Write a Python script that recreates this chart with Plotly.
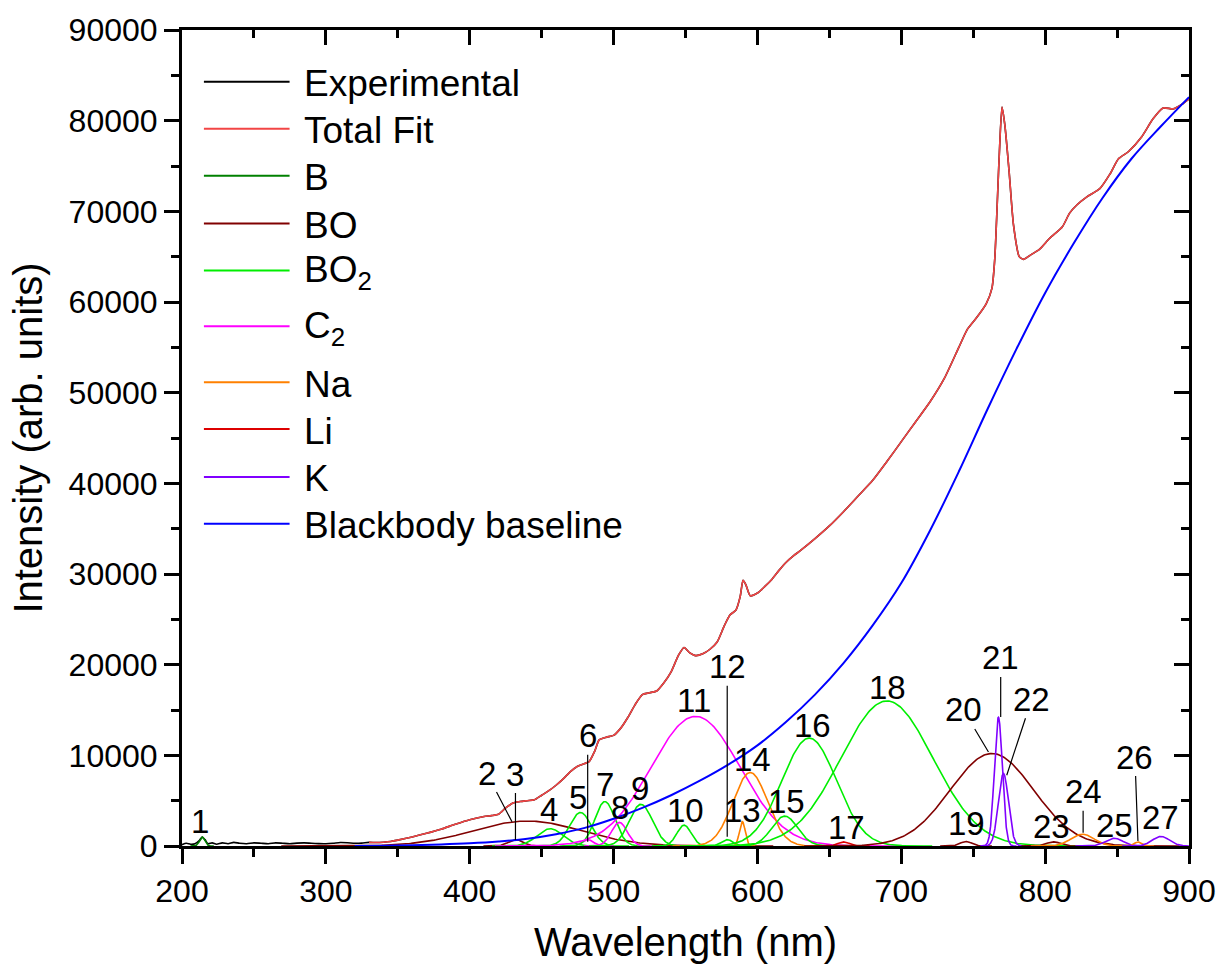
import numpy as np
import plotly.graph_objects as go

# ---------------- measured spectrum ----------------
exp_wl = [200, 203, 206, 209, 212, 214, 216, 218, 221, 224, 228, 232, 236, 240, 245,
          250, 255, 260, 265, 270, 275, 280, 285, 290, 295, 300, 305, 310, 315, 320,
          325, 330, 335, 340, 345, 350, 360, 370, 380, 390, 400, 410, 415, 420, 425,
          430, 435, 440, 445, 450, 455, 460, 465, 470, 475, 480, 483, 487, 490, 495,
          500, 505, 510, 515, 520, 525, 530, 535, 540, 545, 549, 553, 557, 562, 567,
          572, 577, 581, 585, 588, 590, 592, 595, 600, 605, 610, 615, 620, 625, 630,
          640, 650, 660, 670, 680, 690, 700, 710, 720, 730, 740, 746, 752, 759, 763,
          765, 768, 770, 772, 775, 778, 782, 785, 790, 796, 803, 812, 817, 822, 829,
          838, 845, 851, 858, 867, 875, 882, 889, 895, 900]
exp_int = [150, 300, 200, 250, 600, 1000, 700, 250, 350, 200, 350, 250, 400, 300, 250,
           350, 300, 250, 350, 300, 250, 320, 350, 300, 260, 250, 300, 380, 360, 300,
           320, 400, 380, 420, 500, 650, 1000, 1400, 1850, 2400, 2900, 3250, 3350, 3500, 4200,
           4750, 4900, 5000, 5100, 5600, 6100, 6700, 7400, 8200, 8800, 9100, 9300, 10500, 11700, 12000,
           12200, 13000, 14200, 15600, 16700, 16900, 17100, 18000, 19200, 21000, 21900, 21300, 21000, 21200, 21700,
           22500, 24300, 25500, 26000, 27500, 29300, 28800, 27600, 27900, 28600, 29400, 30400, 31300, 32000, 32600,
           33900, 35300, 36900, 38600, 40300, 42400, 44600, 46800, 49000, 51600, 55000, 57000, 58200, 59800, 61500,
           64800, 75800, 81500, 79500, 74300, 68500, 65000, 64700, 65200, 65800, 67000, 68300, 69800, 70700, 71600,
           72500, 74100, 75800, 76600, 78200, 80200, 81400, 81300, 81800, 82400]

# total fit follows the measurement from 330 nm upward
FIT_START = 330
fit_wl = [w for w in exp_wl if w >= FIT_START]
fit_int = [v for w, v in zip(exp_wl, exp_int) if w >= FIT_START]

# ---------------- blackbody baseline ----------------
bb_wl = [320, 340, 360, 380, 400, 420, 440, 460, 480, 500, 520, 540, 560, 580, 600,
         620, 640, 660, 680, 700, 720, 740, 760, 780, 800, 820, 840, 860, 880, 900]
bb_int = [5, 30, 80, 170, 300, 500, 800, 1300, 2000, 3000, 4200, 5600, 7200, 9000, 11100,
          13700, 16700, 20200, 24300, 29000, 34800, 41300, 48200, 54800, 61000, 66500, 71500, 75800, 79300, 82600]

# ---------------- fitted emission components ----------------
peak_num = list(range(1, 28))
peak_species = ["B", "BO", "BO", "BO2", "BO2", "C2", "BO2", "C2", "BO2", "BO2",
                "C2", "BO2", "Na", "Na", "BO2", "BO2", "Li", "BO2", "BO", "BO",
                "K", "K", "BO", "Na", "K", "Na", "K"]
peak_center = [214, 440, 432, 456, 477, 482, 494, 504, 519, 549,
               557, 579, 589.5, 595, 619, 636, 660, 690, 745, 763,
               767.5, 771, 806, 826, 848, 864.5, 880.5]
peak_height = [1000, 2750, 700, 1900, 3700, 700, 4900, 2600, 4600, 2300,
               14300, 700, 2700, 8100, 3300, 11900, 450, 16000, 500, 10200,
               14200, 8000, 450, 1300, 850, 450, 1050]
peak_sigma = [1.8, 38, 5, 9, 7.5, 4, 7, 5.5, 8, 5,
              31, 4, 2, 12, 9, 19, 4, 32, 4, 29,
              2.8, 3.5, 5, 8, 6, 2.5, 6]

species = ["B", "BO", "BO2", "C2", "Na", "Li", "K"]
species_label = {"B": "B", "BO": "BO", "BO2": "BO<sub>2</sub>", "C2": "C<sub>2</sub>",
                 "Na": "Na", "Li": "Li", "K": "K"}
species_color = {"B": "#008000", "BO": "#800000", "BO2": "#00EE00", "C2": "#FF00FF",
                 "Na": "#FF8000", "Li": "#DD0000", "K": "#8000FF"}
COLOR_EXP = "#000000"
COLOR_FIT = "#F24545"
COLOR_BB = "#0000FF"

FONT = "Arial, Liberation Sans, sans-serif"
X_RANGE = [200, 900]
Y_RANGE = [0, 90000]

fig = go.Figure()

fig.add_trace(go.Scatter(x=exp_wl, y=exp_int, mode="lines", name="Experimental",
                         line=dict(color=COLOR_EXP, width=1.6, shape="spline", smoothing=0.6),
                         showlegend=False))
fig.add_trace(go.Scatter(x=fit_wl, y=fit_int, mode="lines", name="Total Fit",
                         line=dict(color=COLOR_FIT, width=1.6, shape="spline", smoothing=0.6),
                         showlegend=False))

# component profiles (Gaussian line shapes from the fitted parameters)
for n, sp, c, h, s in zip(peak_num, peak_species, peak_center, peak_height, peak_sigma):
    lo, hi = max(X_RANGE[0], c - 4.5 * s), min(X_RANGE[1], c + 4.5 * s)
    wl = np.linspace(lo, hi, 300)
    fig.add_trace(go.Scatter(
        x=wl, y=h * np.exp(-0.5 * ((wl - c) / s) ** 2), mode="lines",
        name=f"{sp} {n}", line=dict(color=species_color[sp], width=1.6),
        showlegend=False, hoverinfo="skip"))

fig.add_trace(go.Scatter(x=bb_wl, y=bb_int, mode="lines", name="Blackbody baseline",
                         line=dict(color=COLOR_BB, width=2, shape="spline"),
                         showlegend=False))
# carrier trace for the mirrored (top/right) axes
fig.add_trace(go.Scatter(x=[None], y=[None], xaxis="x2", yaxis="y2",
                         showlegend=False, hoverinfo="skip"))

# ---------------- peak number labels ----------------
# plain labels: (number, x, y) in data units
plain_labels = [(1, 212.5, 2750), (4, 454.8, 4000), (5, 475.6, 5390), (7, 494.3, 6820),
                (8, 504.7, 4290), (9, 518.5, 6380), (10, 549.7, 3960), (11, 555.9, 16060),
                (13, 589.8, 3960), (14, 596.7, 9570), (15, 620.3, 4950), (16, 638.3, 13310),
                (17, 661.8, 2090), (18, 690.2, 17490), (19, 745.6, 2530), (23, 804.4, 2200),
                (25, 848.1, 2310), (27, 880.0, 3190)]
# labels with leader lines: (number, tip x, tip y, label offset px x, offset px y)
leader_labels = [(2, 429.4, 2670, -25, -48), (3, 431.8, 660, 0, -66),
                 (6, 482.0, 470, 0, -106), (12, 579.0, 1020, 0, -170),
                 (20, 760.6, 10370, -25, -42), (21, 769.1, 14230, 0, -59),
                 (22, 773.3, 7810, 25, -76), (24, 826.4, 1460, 0, -41),
                 (26, 864.5, 550, -3, -84)]

LABEL_FONT = dict(family=FONT, size=33, color="black")
annotations = []
for n, x, y in plain_labels:
    annotations.append(dict(x=x, y=y, xref="x", yref="y", text=str(n), showarrow=False,
                            xanchor="center", yanchor="middle", font=LABEL_FONT))
for n, x, y, ax, ay in leader_labels:
    annotations.append(dict(x=x, y=y, xref="x", yref="y", text=str(n), showarrow=True,
                            ax=ax, ay=ay, axref="pixel", ayref="pixel",
                            arrowhead=0, arrowwidth=1.2, arrowcolor="black", standoff=0,
                            startstandoff=0, font=LABEL_FONT, borderpad=0))

# ---------------- legend ----------------
legend_entries = [("Experimental", COLOR_EXP), ("Total Fit", COLOR_FIT)] + \
                 [(species_label[s], species_color[s]) for s in species] + \
                 [("Blackbody baseline", COLOR_BB)]
legend_rows = [80, 127, 174, 222, 269, 325, 381, 428, 476, 523]   # px from top
PLOT_L, PLOT_R, PLOT_T, PLOT_B = 182, 1193, 28, 846
W, H = 1228, 974


def px_to_paper(px, py):
    return (px - PLOT_L) / (PLOT_R - PLOT_L), (PLOT_B - py) / (PLOT_B - PLOT_T)


shapes = []
for (text, color), row in zip(legend_entries, legend_rows):
    x0, yy = px_to_paper(204, row)
    x1, _ = px_to_paper(290, row)
    shapes.append(dict(type="line", xref="paper", yref="paper", x0=x0, x1=x1, y0=yy, y1=yy,
                       line=dict(color=color, width=2)))
    tx, ty = px_to_paper(302, row + 2)
    annotations.append(dict(x=tx, y=ty, xref="paper", yref="paper", text=text,
                            showarrow=False, xanchor="left", yanchor="middle",
                            font=dict(family=FONT, size=37, color="black")))

axis_common = dict(showgrid=False, zeroline=False, showline=True, linecolor="black",
                   linewidth=3, tickcolor="black", tickwidth=3, ticklen=15)

fig.update_layout(
    width=W, height=H,
    margin=dict(l=PLOT_L, r=W - PLOT_R, t=PLOT_T, b=H - PLOT_B),
    paper_bgcolor="white", plot_bgcolor="white",
    font=dict(family=FONT, color="black"),
    showlegend=False,
    xaxis=dict(range=X_RANGE, dtick=100, tick0=200, ticks="outside",
               tickfont=dict(size=32, family=FONT),
               title=dict(text="Wavelength (nm)", font=dict(size=40, family=FONT), standoff=20),
               minor=dict(dtick=50, ticks="outside", ticklen=8, tickwidth=3, tickcolor="black"),
               **axis_common),
    yaxis=dict(range=Y_RANGE, dtick=10000, ticks="outside", tickformat="d",
               tickfont=dict(size=32, family=FONT),
               title=dict(text="Intensity (arb. units)", font=dict(size=40, family=FONT), standoff=14),
               minor=dict(dtick=5000, ticks="outside", ticklen=8, tickwidth=3, tickcolor="black"),
               **axis_common),
    xaxis2=dict(range=X_RANGE, dtick=100, tick0=200, overlaying="x", side="top", anchor="y",
                ticks="inside", showticklabels=False,
                minor=dict(dtick=50, ticks="inside", ticklen=8, tickwidth=3, tickcolor="black"),
                **axis_common),
    yaxis2=dict(range=Y_RANGE, dtick=10000, overlaying="y", side="right", anchor="x",
                ticks="inside", showticklabels=False,
                minor=dict(dtick=5000, ticks="inside", ticklen=8, tickwidth=3, tickcolor="black"),
                **axis_common),
    annotations=annotations,
    shapes=shapes,
)

fig.write_html("out.html")
